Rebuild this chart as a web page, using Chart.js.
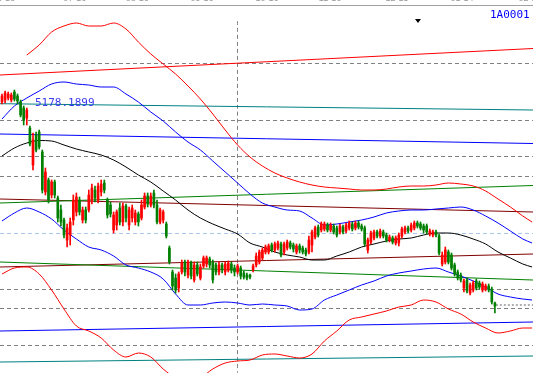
<!DOCTYPE html>
<html>
<head>
<meta charset="utf-8">
<script src="https://cdn.jsdelivr.net/npm/chart.js@4.4.0/dist/chart.umd.min.js"></script>
<style>
html, body { margin: 0; padding: 0; background: #fff; }
#frame { position: relative; width: 533px; height: 373px; overflow: hidden; background: #fff; }
#wrap { position: absolute; left: 0; top: -7px; width: 533px; height: 380px; }
.code { position: absolute; left: 490px; top: 9px; font: 11px/11px "DejaVu Sans Mono", monospace; color: #0000ff; }
.peak { position: absolute; left: 35px; top: 97px; font: 11px/11px "DejaVu Sans Mono", monospace; color: #3a3af0; }
.mark { position: absolute; left: 415px; top: 19px; width: 0; height: 0;
        border-left: 3px solid transparent; border-right: 3px solid transparent; border-top: 4px solid #000; }
</style>
</head>
<body>
<div id="frame">
  <div id="wrap"><canvas id="chart"></canvas></div>
  <div class="code">1A0001</div>
  <div class="peak">5178.1899</div>
  <div class="mark"></div>
</div>
<script>
// Daily candles (index = trading day)
const opens = [5060,5080,5100,5080,5160,5120,5060,5000,4900,4800,4430,4730,4760,4560,4160,4280,4130,4260,4100,3980,
  3880,3680,3730,3880,3960,4080,3880,3980,3980,4080,4180,4080,4160,4250,4080,4030,3780,3830,4000,3860,
  4020,3830,3900,3860,3940,3900,4010,4120,4030,4150,4030,3860,3880,3840,3600,3360,3300,3200,3360,3460,
  3330,3450,3280,3430,3300,3420,3440,3490,3460,3430,3360,3430,3360,3380,3440,3400,3360,3400,3350,3330,
  3330,3380,3430,3460,3500,3560,3560,3630,3580,3600,3640,3560,3600,3650,3630,3560,3620,3600,3580,3560,
  3630,3710,3810,3780,3790,3830,3780,3820,3800,3760,3810,3770,3800,3840,3800,3850,3820,3800,3580,3660,
  3700,3760,3720,3760,3730,3680,3700,3650,3650,3720,3760,3800,3780,3800,3850,3840,3820,3820,3740,3730,
  3760,3720,3440,3460,3560,3530,3430,3360,3330,3200,3280,3150,3180,3270,3250,3180,3190,3220,3190,3050];
const highs = [5140,5170,5160,5150,5180,5140,5080,5020,5000,4820,4750,4760,4780,4580,4400,4300,4280,4280,4120,4030,
  3900,3840,3900,4130,4150,4110,4010,4010,4180,4240,4220,4250,4280,4280,4100,4060,3960,3980,4050,4050,
  4040,4010,4030,3980,3960,4080,4150,4150,4150,4180,4080,4000,3980,3860,3620,3380,3340,3360,3480,3480,
  3480,3470,3460,3460,3440,3520,3520,3510,3480,3450,3460,3450,3460,3470,3460,3430,3440,3420,3370,3350,
  3340,3440,3550,3580,3600,3630,3640,3650,3660,3670,3660,3660,3680,3670,3650,3640,3640,3620,3600,3720,
  3780,3820,3830,3860,3860,3850,3850,3840,3820,3840,3830,3850,3870,3860,3870,3870,3840,3820,3700,3770,
  3780,3780,3790,3780,3750,3730,3720,3720,3750,3810,3820,3820,3850,3870,3870,3860,3840,3840,3790,3780,
  3780,3740,3560,3610,3580,3550,3450,3380,3350,3290,3300,3250,3270,3290,3270,3260,3240,3240,3210,3060];
const lows = [5040,5050,5080,5060,5070,5040,4910,4830,4830,4620,4380,4560,4590,4150,4130,4050,4100,4100,3860,3820,
  3700,3610,3630,3830,3920,3930,3850,3850,3960,4040,4060,4050,4120,4150,3900,3910,3750,3780,3830,3820,
  3860,3780,3860,3830,3820,3880,3990,4010,4010,4000,3840,3840,3850,3700,3440,3180,3150,3160,3340,3320,
  3300,3290,3260,3320,3280,3400,3410,3400,3250,3330,3330,3350,3330,3360,3350,3320,3340,3290,3290,3280,
  3290,3360,3410,3440,3480,3540,3540,3560,3560,3580,3510,3530,3580,3590,3560,3540,3550,3540,3520,3540,
  3560,3690,3710,3760,3770,3760,3760,3740,3710,3740,3740,3750,3780,3770,3780,3790,3770,3620,3550,3640,
  3680,3700,3700,3700,3660,3660,3640,3630,3620,3700,3740,3750,3760,3780,3800,3780,3750,3740,3720,3710,
  3710,3530,3420,3440,3440,3380,3320,3280,3260,3160,3150,3130,3160,3180,3190,3160,3170,3160,3040,2950];
const closes = [5120,5150,5140,5130,5090,5070,4930,4880,4980,4640,4680,4580,4610,4180,4360,4080,4260,4130,3900,3860,
  3730,3800,3860,4080,4110,3960,3980,3880,4130,4200,4100,4220,4240,4180,3930,3940,3930,3960,3860,4020,
  3900,3980,4000,3950,3860,4030,4120,4040,4120,4030,3860,3980,3960,3720,3460,3220,3180,3340,3450,3360,
  3460,3320,3430,3340,3410,3500,3500,3430,3280,3360,3430,3380,3440,3450,3380,3360,3420,3320,3310,3300,
  3310,3420,3520,3560,3580,3610,3620,3580,3640,3650,3530,3640,3660,3610,3590,3620,3580,3560,3540,3680,
  3760,3800,3730,3840,3840,3780,3830,3760,3730,3820,3760,3830,3850,3790,3850,3810,3790,3640,3680,3750,
  3760,3720,3770,3720,3680,3710,3660,3700,3730,3790,3800,3770,3830,3850,3820,3800,3780,3760,3770,3760,
  3730,3550,3530,3580,3460,3400,3340,3300,3280,3270,3170,3230,3250,3200,3210,3240,3220,3180,3060,3020];

// Band curves, sampled every few days
const bandIdx = [0,4,8,12,16,20,24,28,32,36,40,44,48,52,56,60,64,68,72,76,80,84,88,92,96,100,104,108,112,116,120,124,128,132,136,140,144,148,152,156,160,164,168,171];
const midBand = [4520,4600,4650,4675,4670,4630,4590,4560,4530,4480,4410,4330,4260,4170,4080,3980,3900,3840,3790,3740,3650,3610,3560,3530,3510,3480,3480,3520,3560,3610,3640,3670,3690,3700,3730,3750,3750,3730,3690,3640,3560,3500,3440,3410];
const upperBand = [4890,5020,5100,5170,5240,5260,5240,5230,5210,5210,5140,5060,4960,4870,4760,4660,4580,4470,4360,4250,4140,4050,4010,3980,3970,3900,3830,3840,3860,3880,3910,3950,3970,3980,3980,3990,4000,4010,3980,3920,3850,3770,3690,3650];
const lowerBand = [3870,3950,4000,3960,3890,3780,3690,3610,3580,3520,3430,3400,3360,3290,3140,3030,3030,3050,3060,3050,3030,3040,3030,3020,2980,2990,3080,3130,3180,3230,3270,3320,3350,3370,3390,3400,3360,3320,3270,3210,3140,3110,3090,3080];
const outerUpper = [null,null,5530,5630,5760,5820,5850,5820,5820,5850,5790,5660,5540,5440,5340,5220,5090,4940,4780,4630,4510,4420,4350,4300,4260,4230,4210,4200,4190,4180,4180,4190,4210,4220,4220,4230,4250,4240,4220,4170,4090,4010,3920,3860];
const outerLower = [3340,3400,3410,3340,3180,2990,2820,2770,2700,2580,2510,2550,2510,2390,2300,2250,2300,2390,2450,2470,2480,2530,2540,2520,2500,2540,2670,2770,2880,2910,2940,2970,3010,3030,3080,3060,2990,2940,2860,2800,2750,2770,2800,2800];

// Straight trend lines: value at left edge, value at right edge
const trendRed = [5330, 5595];
const trendTeal = [5043, 4980];
const trendBlue = [4740, 4645];
const trendGreen = [4050, 4225];
const trendMaroon = [4090, 3960];
const trendGreen2 = [3460, 3280];
const trendMaroon2 = [3410, 3540];
const trendBlue2 = [2770, 2860];
const trendTeal2 = [2460, 2520];

// Horizontal dashed levels and markers
const dashLevels = [5450, 4880, 4510, 4320, 3750, 3190, 3000, 2630];
const blueLevel = 3750;
const cursorDay = [75.97, 5870];
const lastPrice = [159.3, 3030];

// Date labels on the top axis
const labelIdx = [0.5, 23.5, 43.6, 64.5, 85.5, 105.8, 127.4, 148.4, 170.3];
const labelText = ['06-16', '07-16', '08-16', '09-16', '10-16', '11-16', '12-15', '01-14', '02-15'];

const xMin = -0.645, xMax = 171.29;
const yMin = 2350, yMax = 6030;

const candleColors = opens.map((o, i) => closes[i] >= o ? '#ff0000' : '#008000');

function band(values) {
    return bandIdx.map((x, i) => ({ x: x, y: values[i] }));
}
function trend(pair) {
    return [{ x: xMin, y: pair[0] }, { x: xMax, y: pair[1] }];
}
function line(data, color, extra) {
    return Object.assign({
        type: 'line', data: data, borderColor: color, borderWidth: 1,
        pointRadius: 0, fill: false, order: 3, cubicInterpolationMode: 'monotone'
    }, extra || {});
}

new Chart(document.getElementById('chart'), {
    type: 'bar',
    data: {
        datasets: [
            {
                data: opens.map((o, i) => ({ x: i, y: [o, closes[i]] })),
                backgroundColor: candleColors, barThickness: 2, grouped: false, order: 0
            },
            {
                data: lows.map((l, i) => ({ x: i, y: [l, highs[i]] })),
                backgroundColor: candleColors, barThickness: 1, grouped: false, order: 1
            },
            line(band(outerUpper), '#ff0000'),
            line(band(outerLower), '#ff0000'),
            line(band(upperBand), '#0000ff'),
            line(band(lowerBand), '#0000ff'),
            line(band(midBand), '#000000'),
            line(trend(trendRed), '#ff0000'),
            line(trend(trendTeal), '#008080'),
            line(trend(trendBlue), '#0000ff'),
            line(trend(trendGreen), '#008000'),
            line(trend(trendMaroon), '#800000'),
            line(trend(trendGreen2), '#008000'),
            line(trend(trendMaroon2), '#800000'),
            line(trend(trendBlue2), '#0000ff'),
            line(trend(trendTeal2), '#008080'),
            line([{ x: cursorDay[0], y: cursorDay[1] }, { x: cursorDay[0], y: yMin }], '#808080', { borderDash: [4, 3] }),
            line([{ x: lastPrice[0], y: lastPrice[1] }, { x: xMax, y: lastPrice[1] }], '#606060', { borderDash: [2, 2] })
        ]
    },
    options: {
        responsive: true,
        maintainAspectRatio: false,
        animation: false,
        layout: { padding: 0 },
        plugins: { legend: { display: false }, tooltip: { enabled: false } },
        scales: {
            x: {
                type: 'linear', position: 'top', min: xMin, max: xMax, offset: false,
                grid: { display: false, drawTicks: false },
                border: { display: true, color: '#a0a0a0', width: 1 },
                afterBuildTicks: s => { s.ticks = labelIdx.map(v => ({ value: v })); },
                afterFit: s => { s.paddingLeft = 0; s.paddingRight = 0; },
                ticks: {
                    autoSkip: false, maxRotation: 0, padding: 0, color: '#999999',
                    font: { family: 'Liberation Sans', size: 9, lineHeight: '12px' },
                    callback: (v, i) => labelText[i]
                }
            },
            y: {
                type: 'linear', min: yMin, max: yMax,
                afterBuildTicks: s => { s.ticks = dashLevels.map(v => ({ value: v })); },
                afterFit: s => { s.width = 0; },
                ticks: { display: false },
                grid: {
                    drawTicks: false,
                    color: c => (c.tick && c.tick.value === blueLevel) ? '#a8c8ec' : '#808080'
                },
                border: { display: false, dash: [4, 3] }
            }
        }
    }
});
</script>
</body>
</html>
